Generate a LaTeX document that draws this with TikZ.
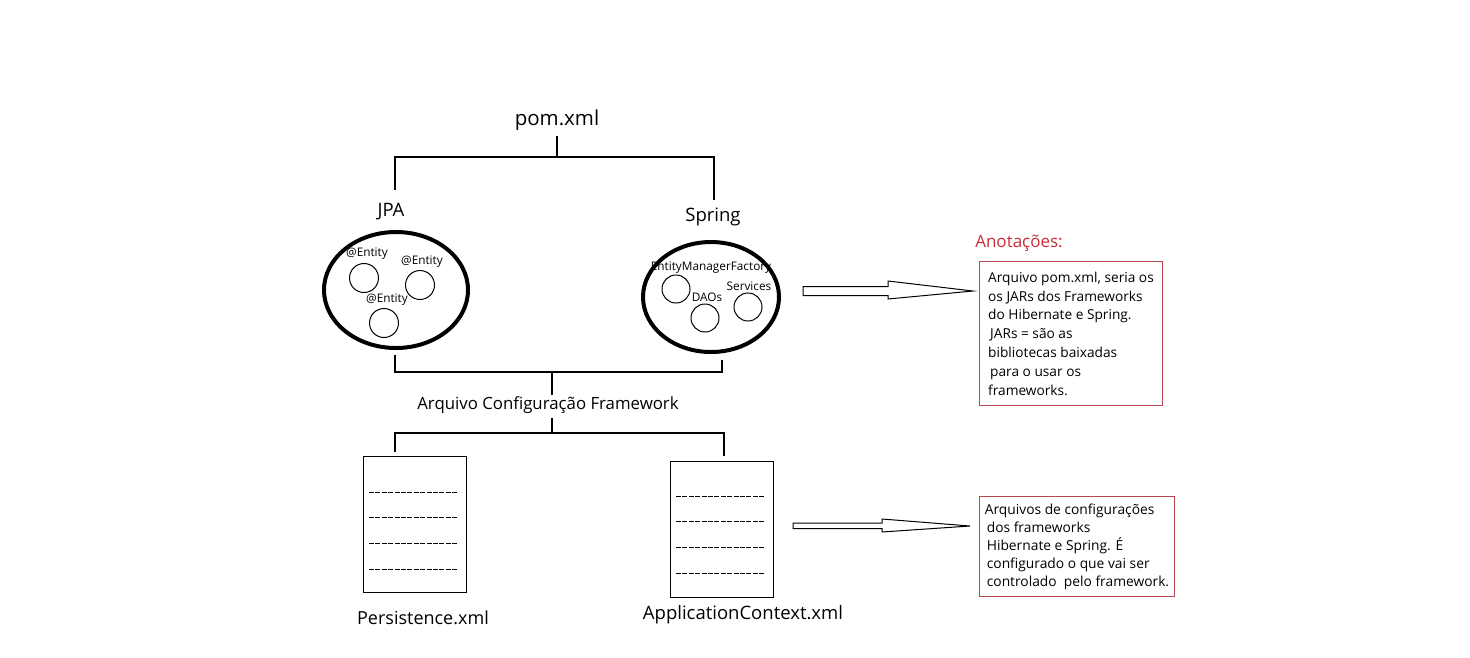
\documentclass[tikz,border=0pt]{standalone}
\usepackage{fontspec}
\setmainfont{Open Sans}
\usetikzlibrary{shapes.geometric}

\definecolor{notaRed}{RGB}{200,45,55}
\definecolor{notaBorda}{RGB}{185,70,80}

\tikzset{
  ligacao/.style={line width=1.3pt},
  conjunto/.style={draw,ellipse,line width=4pt,inner sep=0pt},
  bolinha/.style={draw,circle,line width=1pt,minimum size=29pt,inner sep=0pt},
  rotulo/.style={font=\fontsize{11.8}{13}\selectfont,inner sep=0pt},
  titulo/.style={font=\fontsize{16.8}{19}\selectfont,inner sep=0pt},
  arquivo/.style={draw,line width=1.2pt,minimum width=103pt,minimum height=136pt,inner sep=0pt},
  linha/.style={line width=1pt,dash pattern=on 5pt off 1.4pt},
  nota/.style={draw=notaBorda,line width=1pt,align=left,anchor=north west,
    font=\fontsize{13.7}{18.8}\selectfont,inner xsep=7pt,inner ysep=0pt},
  seta/.style={draw,line width=1pt,fill=white}
}

\begin{document}
\begin{tikzpicture}[x=1pt,y=-1pt]
\useasboundingbox (0,0) rectangle (1470,657);

% topo
\node[inner sep=0pt,font=\fontsize{20.5}{24}\selectfont] (pom) at (557,120) {pom.xml};
\coordinate (pomLeft) at (395,190);
\coordinate (pomRight) at (714,200);
\draw[ligacao] (557,136) -- (557,157);
\draw[ligacao] (pomLeft) -- (395,157) -- (714,157) -- (pomRight);

\node[titulo,font=\fontsize{18.5}{21}\selectfont] (jpa) at (391,212) {JPA};
\node[titulo,font=\fontsize{18.5}{21}\selectfont] (spring) at (713,217) {Spring};

% JPA
\node[conjunto,minimum width=144pt,minimum height=116pt] (jpaSet) at (396,290) {};
\node[bolinha] (ent1) at (364,278) {};
\node[bolinha] (ent2) at (420,285) {};
\node[bolinha] (ent3) at (384,323) {};
\node[rotulo] at (367,254) {@Entity};
\node[rotulo] at (422,262) {@Entity};
\node[rotulo] at (387,300) {@Entity};

% Spring
\node[conjunto,minimum width=136pt,minimum height=110pt] (springSet) at (711,297) {};
\node[bolinha,minimum size=28pt] (emf) at (676,289) {};
\node[bolinha,minimum size=28pt] (dao) at (705,318) {};
\node[bolinha,minimum size=28pt] (serv) at (748,307) {};
\node[rotulo] at (711,268) {EntityManagerFactory};
\node[rotulo] at (707,297) {DAOs};
\node[rotulo] at (749,286) {Services};

% configuracao
\coordinate (cfgLeft) at (395,355);
\coordinate (cfgRight) at (722,360);
\draw[ligacao] (cfgLeft) -- (395,372) -- (722,372) -- (cfgRight);
\node[titulo] (cfg) at (548,405) {Arquivo Configuração Framework};
\draw[ligacao] (552,372) -- (552,395);
\draw[ligacao] (552,418) -- (552,433);

\node[arquivo,anchor=north west] (persist) at (363,456) {};
\node[arquivo,anchor=north west] (appctx) at (670,461) {};
\coordinate (persistTop) at (395,452);
\coordinate (appctxTop) at (724,456);
\draw[ligacao] (persistTop) -- (395,433) -- (724,433) -- (appctxTop);

\foreach \y in {492,517,543,569}
  \draw[linha] (369,\y) -- (458,\y);
\foreach \y in {496,521,547,573}
  \draw[linha] (676,\y) -- (765,\y);

\node[titulo,font=\fontsize{18}{21}\selectfont] (persistLbl) at (423,618) {Persistence.xml};
\node[titulo,font=\fontsize{18.5}{21}\selectfont] (appctxLbl) at (743,615) {ApplicationContext.xml};

% setas
\draw[seta] (803,286.5) -- (888,286.5) -- (888,281) -- (973,291) -- (888,299)
  -- (888,295.5) -- (803,295.5) -- cycle;
\draw[seta] (793,523) -- (882,523) -- (882,519) -- (970,526) -- (882,532)
  -- (882,528.5) -- (793,528.5) -- cycle;

% anotacoes
\node[inner sep=0pt,text=notaRed,font=\fontsize{17}{20}\selectfont] (anot) at (1019,243) {Anotações:};
\node[nota,minimum width=183pt,minimum height=144pt] (nota1) at (979,261) {%
Arquivo pom.xml, seria os\\
os JARs dos Frameworks\\
do Hibernate e Spring.\\
\hspace{2pt}JARs = são as\\
bibliotecas baixadas\\
\hspace{2pt}para o usar os\\
frameworks.};
\node[nota,minimum width=195pt,minimum height=100pt,inner xsep=4pt,
  font=\fontsize{13.8}{18}\selectfont] (nota2) at (979,496) {%
Arquivos de configurações\\
\hspace{2pt}dos frameworks\\
\hspace{2pt}Hibernate e Spring. É\\
\hspace{2pt}configurado o que vai ser\\
\hspace{2pt}controlado\ \ pelo framework.};
\end{tikzpicture}
\end{document}
